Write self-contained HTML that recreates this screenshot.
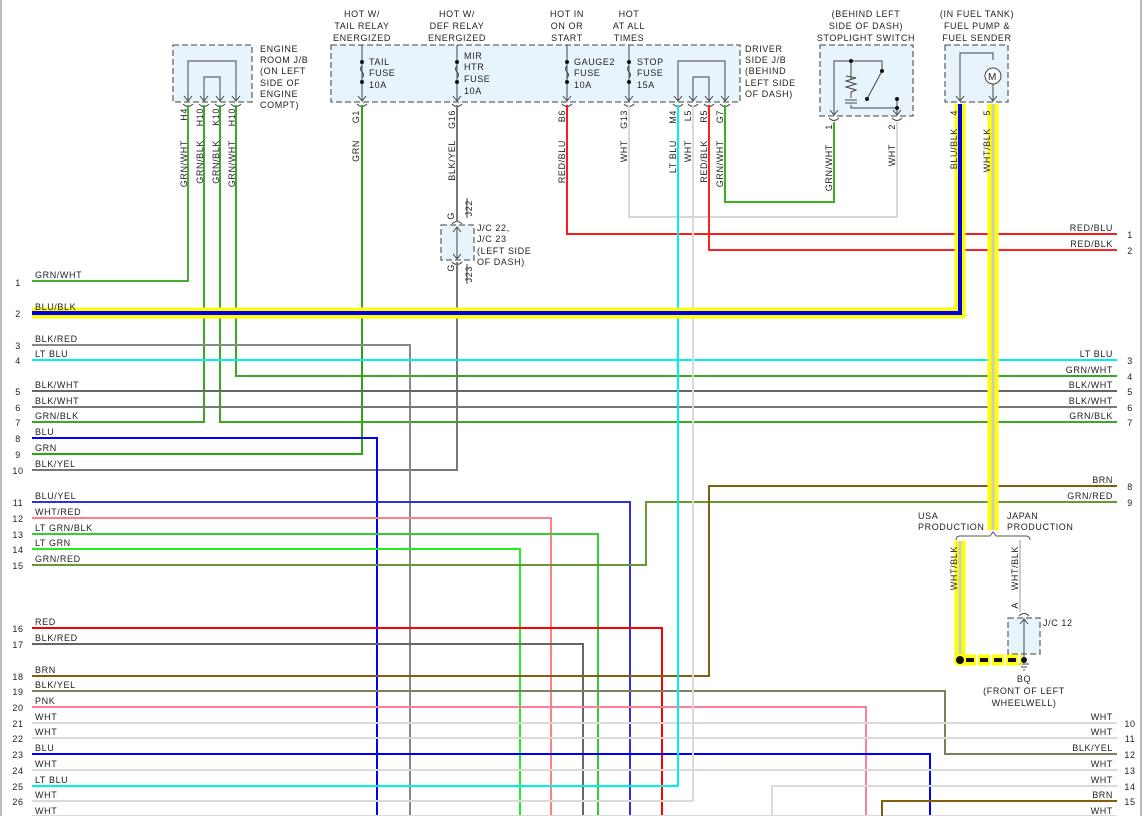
<!DOCTYPE html>
<html><head><meta charset="utf-8"><style>
html,body{margin:0;padding:0;background:#fff}
svg{display:block}
text{font-family:"Liberation Sans",sans-serif;font-size:9px;fill:#222;letter-spacing:0.6px}
</style></head><body>
<svg width="1144" height="816" viewBox="0 0 1144 816" xmlns="http://www.w3.org/2000/svg">
<rect x="0" y="0" width="1144" height="816" fill="#fff"/>
<line x1="1" y1="0" x2="1" y2="816" stroke="#777" stroke-width="1"/>
<line x1="1141" y1="0" x2="1141" y2="816" stroke="#777" stroke-width="1"/>

<g fill="#e8f4fb" stroke="#666" stroke-width="1.3" stroke-dasharray="6,3">
<rect x="173" y="45" width="79" height="57"/>
<rect x="331" y="45" width="409" height="57"/>
<rect x="820" y="45" width="93" height="71"/>
<rect x="945" y="45" width="63" height="57"/>
<rect x="441" y="225" width="33" height="35"/>
<rect x="1008" y="618" width="32" height="36"/>
</g>

<g stroke="#444" stroke-width="1" fill="none">
<path d="M188 100 V61 H236 V100"/>
<path d="M204 100 V77 H220 V100"/>
<path d="M362 45 V100"/><path d="M457 45 V100"/><path d="M567 45 V100"/><path d="M629 45 V100"/>
<path d="M678 100 V61 H725 V100"/><path d="M693 100 V77 H709 V100"/>
<path d="M834 114 V61 H882 V71"/>
<path d="M851 61 V80"/><path d="M846 76 l10 2 -10 3 10 3 -10 3 10 3 -5 2"/>
<path d="M851 92 V98"/><path d="M845 100 H857 M845 103 H857"/><path d="M851 105 V108 H897 V98 M897 108 V114"/>
<path d="M882 71 L867 99"/>
<path d="M960 100 V53 H993 V60 M993 84 V100"/>
<path d="M457 228 V258"/>
<path d="M1024 620 V660"/>
</g>
<g fill="#111">
<circle cx="362" cy="62" r="2"/><circle cx="362" cy="82" r="2"/>
<circle cx="457" cy="62" r="2"/><circle cx="457" cy="82" r="2"/>
<circle cx="567" cy="62" r="2"/><circle cx="567" cy="82" r="2"/>
<circle cx="629" cy="62" r="2"/><circle cx="629" cy="82" r="2"/>
<circle cx="851" cy="61" r="2"/><circle cx="882" cy="71" r="2"/><circle cx="867" cy="99" r="2"/>
<circle cx="897" cy="99" r="2"/><circle cx="897" cy="108" r="2"/>
</g>
<g fill="#e8f4fb" stroke="#444" stroke-width="1">
<path d="M362 66 q-3 3 0 6 q3 3 0 6" fill="none"/>
<path d="M457 66 q-3 3 0 6 q3 3 0 6" fill="none"/>
<path d="M567 66 q-3 3 0 6 q3 3 0 6" fill="none"/>
<path d="M629 66 q-3 3 0 6 q3 3 0 6" fill="none"/>
<circle cx="993" cy="76" r="8" fill="#fff"/>
</g>
<text x="988" y="80" style="font-size:10px">M</text>
<g stroke="#444" stroke-width="1" fill="none">
<path d="M184 96 l4 5 4 -5 M200 96 l4 5 4 -5 M216 96 l4 5 4 -5 M232 96 l4 5 4 -5"/>
<path d="M183 104 q5 5 10 0 M199 104 q5 5 10 0 M215 104 q5 5 10 0 M231 104 q5 5 10 0"/>
<path d="M358 96 l4 5 4 -5 M453 96 l4 5 4 -5 M563 96 l4 5 4 -5 M625 96 l4 5 4 -5 M674 96 l4 5 4 -5 M689 96 l4 5 4 -5 M705 96 l4 5 4 -5 M721 96 l4 5 4 -5"/>
<path d="M357 104 q5 5 10 0 M452 104 q5 5 10 0 M562 104 q5 5 10 0 M624 104 q5 5 10 0 M673 104 q5 5 10 0 M688 104 q5 5 10 0 M704 104 q5 5 10 0 M720 104 q5 5 10 0"/>
<path d="M830 110 l4 5 4 -5 M893 110 l4 5 4 -5 M829 118 q5 5 10 0 M892 118 q5 5 10 0"/>
<path d="M956 96 l4 5 4 -5 M989 96 l4 5 4 -5"/>
<path d="M452 224 q5 -5 10 0 M453 232 l4 -5 4 5 M453 254 l4 5 4 -5 M452 262 q5 5 10 0"/>
<path d="M1020 624 l4 -5 4 5 M1019 616 q5 -5 10 0"/>
<path d="M1019 664 h10 M1021 667 h6 M1023 670 h2"/>
<path d="M467 198 V218 M467 264 V284"/>
</g>

<g fill="none" stroke-width="2">
<path d="M188 105 V281 H32" stroke="#44b02a"/>
<path d="M204 105 V422 H32" stroke="#3aa820"/>
<path d="M220 105 V422 H1117" stroke="#3aa820"/>
<path d="M236 105 V376 H1117" stroke="#3aa820"/>
<path d="M362 105 V454 H32" stroke="#2aa814"/>
<path d="M457 105 V222 M457 262 V470 H32" stroke="#777"/>
<path d="M567 105 V234 H1117" stroke="#ff1a1a"/>
<path d="M629 105 V217 H897 V122" stroke="#d8d8d8"/>
<path d="M709 105 V250 H1117" stroke="#ff2020"/>
<path d="M725 105 V202 H834 V122" stroke="#3cb020"/>
<path d="M32 345 H410 V816" stroke="#888"/>
<path d="M32 360 H1117" stroke="#00f0f0"/>
<path d="M32 391 H1117" stroke="#666"/>
<path d="M32 407 H1117" stroke="#777"/>
<path d="M32 438 H377 V816" stroke="#0000ff"/>
<path d="M32 502 H630 V816" stroke="#3030e0"/>
<path d="M32 518 H551 V816" stroke="#ff8080"/>
<path d="M32 534 H598 V816" stroke="#33cc33"/>
<path d="M32 549 H520 V816" stroke="#22ee22"/>
<path d="M32 565 H646 V502 H1117" stroke="#669933"/>
<path d="M32 628 H662 V816" stroke="#ff0000"/>
<path d="M32 644 H583 V816" stroke="#666"/>
<path d="M32 676 H709 V486 H1117" stroke="#806010"/>
<path d="M32 691 H945 V754 H1117" stroke="#808060"/>
<path d="M32 707 H866 V816" stroke="#ff8095"/>
<path d="M32 723 H1117" stroke="#dadada"/>
<path d="M32 738 H1117" stroke="#dadada"/>
<path d="M32 754 H930 V816" stroke="#0000ff"/>
<path d="M32 770 H1117" stroke="#dadada"/>
<path d="M678 105 V786 H32" stroke="#00f0f0"/>
<path d="M693 105 V801 H32" stroke="#dadada"/>
<path d="M32 816 H1117" stroke="#dadada"/>
<path d="M1117 786 H772 V816" stroke="#dadada"/>
<path d="M1117 801 H882 V816" stroke="#806010"/>
<path d="M1020 540 V612" stroke="#bbb" stroke-width="1.5"/>
</g>
<g fill="none">
<path d="M32 313 H960 V104" stroke="#ffff00" stroke-width="11"/>
<path d="M32 313 H960 V104" stroke="#0000ee" stroke-width="4"/>
<path d="M993 104 V530" stroke="#ffff00" stroke-width="11"/>
<path d="M993 104 V530" stroke="#cccccc" stroke-width="3"/>
<path d="M960 541 V660" stroke="#ffff00" stroke-width="11"/>
<path d="M960 541 V660" stroke="#cccccc" stroke-width="3"/>
<path d="M964 660 H1022" stroke="#ffff00" stroke-width="11" stroke-dasharray="12,2"/>
<path d="M966 660 H1022" stroke="#111" stroke-width="4" stroke-dasharray="8,6"/>
<path d="M956 540 q0 -4 4 -4 H990 l3 -4 3 4 H1026 q4 0 4 4" stroke="#555" stroke-width="1"/>
</g>
<circle cx="960" cy="660" r="6" fill="#ffff00"/>
<circle cx="960" cy="660" r="4" fill="#111"/>
<circle cx="1024" cy="660" r="3" fill="#111"/>

<g text-anchor="middle">
<text x="362" y="17">HOT W/</text><text x="362" y="29">TAIL RELAY</text><text x="362" y="41">ENERGIZED</text>
<text x="457" y="17">HOT W/</text><text x="457" y="29">DEF RELAY</text><text x="457" y="41">ENERGIZED</text>
<text x="567" y="17">HOT IN</text><text x="567" y="29">ON OR</text><text x="567" y="41">START</text>
<text x="629" y="17">HOT</text><text x="629" y="29">AT ALL</text><text x="629" y="41">TIMES</text>
<text x="866" y="17">(BEHIND LEFT</text><text x="866" y="29">SIDE OF DASH)</text><text x="866" y="41">STOPLIGHT SWITCH</text>
<text x="977" y="17">(IN FUEL TANK)</text><text x="977" y="29">FUEL PUMP &amp;</text><text x="977" y="41">FUEL SENDER</text>
<text x="1024" y="682">BQ</text><text x="1024" y="694">(FRONT OF LEFT</text><text x="1024" y="706">WHEELWELL)</text>
</g>
<text x="260" y="52">ENGINE</text><text x="260" y="63">ROOM J/B</text><text x="260" y="74">(ON LEFT</text><text x="260" y="86">SIDE OF</text><text x="260" y="97">ENGINE</text><text x="260" y="108">COMPT)</text>
<text x="369" y="65">TAIL</text><text x="369" y="76">FUSE</text><text x="369" y="88">10A</text>
<text x="464" y="59">MIR</text><text x="464" y="70">HTR</text><text x="464" y="82">FUSE</text><text x="464" y="94">10A</text>
<text x="574" y="65">GAUGE2</text><text x="574" y="76">FUSE</text><text x="574" y="88">10A</text>
<text x="637" y="65">STOP</text><text x="637" y="76">FUSE</text><text x="637" y="88">15A</text>
<text x="745" y="52">DRIVER</text><text x="745" y="63">SIDE J/B</text><text x="745" y="74">(BEHIND</text><text x="745" y="86">LEFT SIDE</text><text x="745" y="97">OF DASH)</text>
<text x="477" y="231">J/C 22,</text><text x="477" y="242">J/C 23</text><text x="477" y="254">(LEFT SIDE</text><text x="477" y="265">OF DASH)</text>
<text x="1043" y="626">J/C 12</text>
<text x="918" y="519">USA</text><text x="918" y="530">PRODUCTION</text>
<text x="1007" y="519">JAPAN</text><text x="1007" y="530">PRODUCTION</text>

<g text-anchor="end">
<text transform="translate(187,108) rotate(-90)">H4</text>
<text transform="translate(203,108) rotate(-90)">H10</text>
<text transform="translate(219,108) rotate(-90)">K10</text>
<text transform="translate(235,108) rotate(-90)">H10</text>
<text transform="translate(187,140) rotate(-90)">GRN/WHT</text>
<text transform="translate(203,140) rotate(-90)">GRN/BLK</text>
<text transform="translate(219,140) rotate(-90)">GRN/BLK</text>
<text transform="translate(235,140) rotate(-90)">GRN/WHT</text>
<text transform="translate(359,110) rotate(-90)">G1</text>
<text transform="translate(359,140) rotate(-90)">GRN</text>
<text transform="translate(455,110) rotate(-90)">G16</text>
<text transform="translate(455,140) rotate(-90)">BLK/YEL</text>
<text transform="translate(565,110) rotate(-90)">B6</text>
<text transform="translate(565,140) rotate(-90)">RED/BLU</text>
<text transform="translate(627,110) rotate(-90)">G13</text>
<text transform="translate(627,140) rotate(-90)">WHT</text>
<text transform="translate(676,110) rotate(-90)">M4</text>
<text transform="translate(676,140) rotate(-90)">LT BLU</text>
<text transform="translate(691,110) rotate(-90)">L5</text>
<text transform="translate(691,140) rotate(-90)">WHT</text>
<text transform="translate(707,110) rotate(-90)">R5</text>
<text transform="translate(707,140) rotate(-90)">RED/BLK</text>
<text transform="translate(723,110) rotate(-90)">G7</text>
<text transform="translate(723,140) rotate(-90)">GRN/WHT</text>
<text transform="translate(832,124) rotate(-90)">1</text>
<text transform="translate(832,144) rotate(-90)">GRN/WHT</text>
<text transform="translate(895,124) rotate(-90)">2</text>
<text transform="translate(895,144) rotate(-90)">WHT</text>
<text transform="translate(957,110) rotate(-90)">4</text>
<text transform="translate(957,128) rotate(-90)">BLU/BLK</text>
<text transform="translate(990,110) rotate(-90)">5</text>
<text transform="translate(990,128) rotate(-90)">WHT/BLK</text>
<text transform="translate(957,546) rotate(-90)">WHT/BLK</text>
<text transform="translate(1018,546) rotate(-90)">WHT/BLK</text>
<text transform="translate(1018,602) rotate(-90)">A</text>
<text transform="translate(454,212) rotate(-90)">G</text>
<text transform="translate(454,264) rotate(-90)">G</text>
<text transform="translate(472,200) rotate(-90)">J22</text>
<text transform="translate(472,266) rotate(-90)">J23</text>
</g>

<g>
<text x="35" y="278">GRN/WHT</text><text x="35" y="310">BLU/BLK</text><text x="35" y="342">BLK/RED</text><text x="35" y="357">LT BLU</text>
<text x="35" y="388">BLK/WHT</text><text x="35" y="404">BLK/WHT</text><text x="35" y="419">GRN/BLK</text><text x="35" y="435">BLU</text>
<text x="35" y="451">GRN</text><text x="35" y="467">BLK/YEL</text><text x="35" y="499">BLU/YEL</text><text x="35" y="515">WHT/RED</text>
<text x="35" y="531">LT GRN/BLK</text><text x="35" y="546">LT GRN</text><text x="35" y="562">GRN/RED</text><text x="35" y="625">RED</text>
<text x="35" y="641">BLK/RED</text><text x="35" y="673">BRN</text><text x="35" y="688">BLK/YEL</text><text x="35" y="704">PNK</text>
<text x="35" y="720">WHT</text><text x="35" y="735">WHT</text><text x="35" y="751">BLU</text><text x="35" y="767">WHT</text>
<text x="35" y="783">LT BLU</text><text x="35" y="798">WHT</text><text x="35" y="814">WHT</text>
</g>
<g text-anchor="middle">
<text x="18" y="286">1</text><text x="18" y="317">2</text><text x="18" y="349">3</text><text x="18" y="364">4</text>
<text x="18" y="395">5</text><text x="18" y="411">6</text><text x="18" y="426">7</text><text x="18" y="442">8</text>
<text x="18" y="458">9</text><text x="18" y="474">10</text><text x="18" y="506">11</text><text x="18" y="522">12</text>
<text x="18" y="538">13</text><text x="18" y="553">14</text><text x="18" y="569">15</text><text x="18" y="632">16</text>
<text x="18" y="648">17</text><text x="18" y="680">18</text><text x="18" y="695">19</text><text x="18" y="711">20</text>
<text x="18" y="727">21</text><text x="18" y="742">22</text><text x="18" y="758">23</text><text x="18" y="774">24</text>
<text x="18" y="790">25</text><text x="18" y="805">26</text>
<text x="1130" y="238">1</text><text x="1130" y="254">2</text><text x="1130" y="364">3</text><text x="1130" y="380">4</text>
<text x="1130" y="395">5</text><text x="1130" y="411">6</text><text x="1130" y="426">7</text><text x="1130" y="490">8</text>
<text x="1130" y="506">9</text><text x="1130" y="727">10</text><text x="1130" y="742">11</text><text x="1130" y="758">12</text>
<text x="1130" y="774">13</text><text x="1130" y="790">14</text><text x="1130" y="805">15</text>
</g>
<g text-anchor="end">
<text x="1113" y="231">RED/BLU</text><text x="1113" y="247">RED/BLK</text><text x="1113" y="357">LT BLU</text><text x="1113" y="373">GRN/WHT</text>
<text x="1113" y="388">BLK/WHT</text><text x="1113" y="404">BLK/WHT</text><text x="1113" y="419">GRN/BLK</text><text x="1113" y="483">BRN</text>
<text x="1113" y="499">GRN/RED</text><text x="1113" y="720">WHT</text><text x="1113" y="735">WHT</text><text x="1113" y="751">BLK/YEL</text>
<text x="1113" y="767">WHT</text><text x="1113" y="783">WHT</text><text x="1113" y="798">BRN</text><text x="1113" y="814">WHT</text>
</g>
</svg>
</body></html>
